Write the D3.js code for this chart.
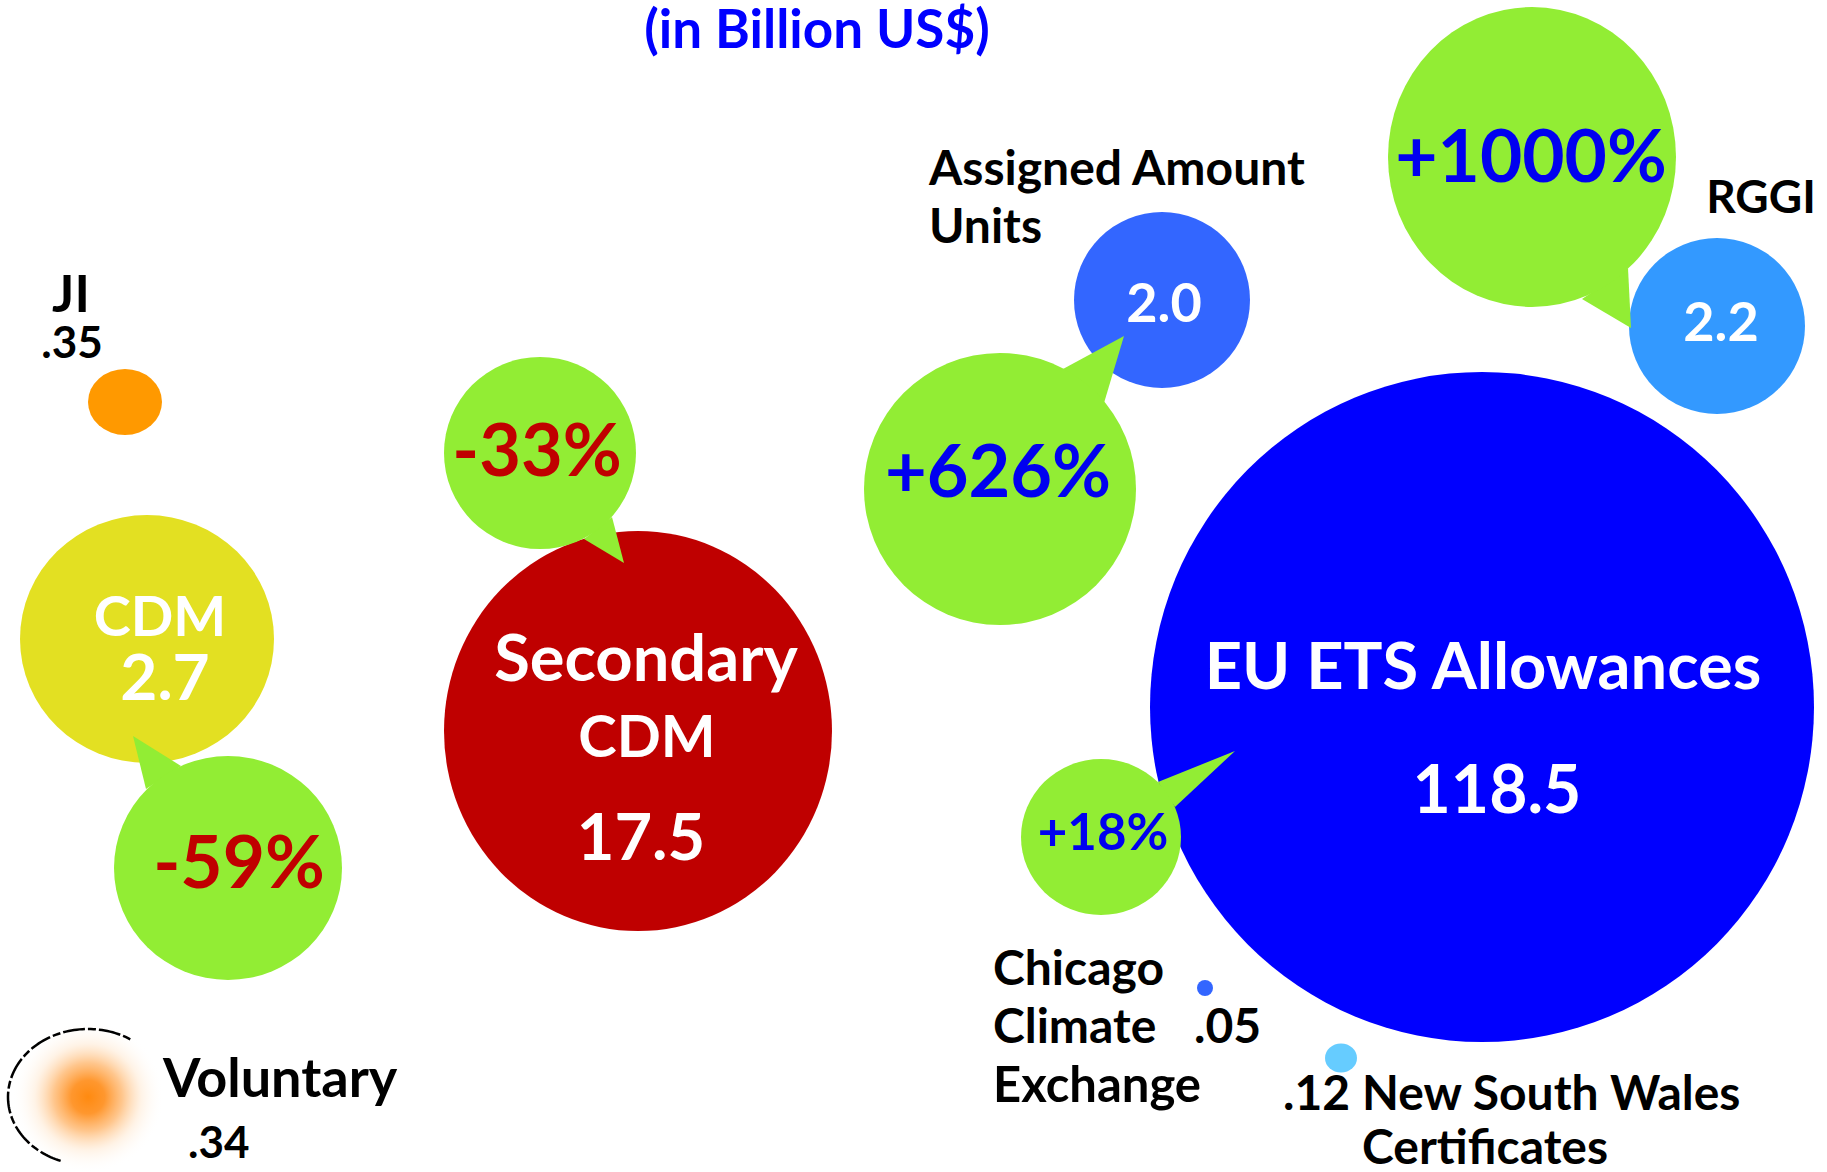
<!DOCTYPE html>
<html>
<head>
<meta charset="utf-8">
<script src="https://cdn.jsdelivr.net/npm/d3@7"></script>
<style>
  html, body { margin: 0; background: #fff; }
  svg { display: block; }
  text { font-family: Lato, "Open Sans", sans-serif; font-weight: 700; }
</style>
</head>
<body>
<script>

// market names (one entry per line of the label)
const markets = [
  ["EU ETS Allowances"],
  ["Secondary", "CDM"],
  ["CDM"],
  ["JI"],
  ["Assigned Amount", "Units"],
  ["RGGI"],
  ["Voluntary"],
  ["New South Wales", "Certificates"],
  ["Chicago", "Climate", "Exchange"]
];
// market value, billion US$
const values = [118.5, 17.5, 2.7, 0.35, 2.0, 2.2, 0.34, 0.12, 0.05];
// change on previous year, %
const changes = [18, -33, -59, null, 626, 1000, null, null, null];
const unitNote = "(in Billion US$)";

const W = 1827, H = 1172;

// hand placed bubble layout, in reference pixels
const layout = [
  { cx: 1482, cy: 707, rx: 332, ry: 335, fill: "#0000ff",
    text: [{ k: "n0", x: 1483, y: 689, s: 65, c: "#fff" }, { k: "v", x: 1497, y: 813, s: 66, c: "#fff" }],
    bub: { cx: 1101, cy: 837, rx: 80, ry: 78, tail: [[1158, 782], [1175, 807], [1235, 751]], x: 1103, y: 850, s: 51 } },
  { cx: 638, cy: 731, rx: 194, ry: 200, fill: "#bf0000",
    text: [{ k: "n0", x: 646, y: 681, s: 65, c: "#fff" }, { k: "n1", x: 647, y: 757, s: 58, c: "#fff" }, { k: "v", x: 641, y: 860, s: 65, c: "#fff" }],
    bub: { cx: 540, cy: 453, rx: 96, ry: 96, tail: [[584, 539], [612, 517], [624, 563]], x: 537, y: 476, s: 72 } },
  { cx: 147, cy: 639, rx: 127, ry: 124, fill: "#e3e022",
    text: [{ k: "n0", x: 160, y: 636, s: 56, c: "#fff" }, { k: "v", x: 165, y: 700, s: 64, c: "#fff" }],
    bub: { cx: 228, cy: 868, rx: 114, ry: 112, tail: [[146, 789], [181, 766], [133, 736]], x: 239, y: 888, s: 73 } },
  { cx: 125, cy: 402, rx: 37, ry: 33, fill: "#ff9900",
    text: [{ k: "n0", x: 71, y: 312, s: 52, c: "#000" }, { k: "v", x: 72, y: 358, s: 44, c: "#000" }] },
  { cx: 1162, cy: 300, rx: 88, ry: 88, fill: "#3366ff",
    text: [{ k: "n0", x: 929, y: 185, s: 48, c: "#000", a: "start" }, { k: "n1", x: 929, y: 243, s: 48, c: "#000", a: "start" },
           { k: "v", x: 1164, y: 322, s: 54, c: "#fff" }],
    bub: { cx: 1000, cy: 489, rx: 136, ry: 136, tail: [[1063, 369], [1104, 403], [1124, 336]], x: 998, y: 497, s: 72 } },
  { cx: 1717, cy: 326, rx: 88, ry: 88, fill: "#3399ff",
    text: [{ k: "n0", x: 1761, y: 213, s: 46, c: "#000" }, { k: "v", x: 1721, y: 341, s: 54, c: "#fff" }],
    bub: { cx: 1532, cy: 157, rx: 144, ry: 150, tail: [[1582, 299], [1628, 268], [1631, 328]], x: 1531, y: 182, s: 73 } },
  { cx: 88, cy: 1097, rx: 76, ry: 76, fill: "url(#blur)", outline: true,
    text: [{ k: "n0", x: 163, y: 1097, s: 54, c: "#000", a: "start" }, { k: "v", x: 188, y: 1158, s: 44, c: "#000", a: "start" }] },
  { cx: 1341, cy: 1058, rx: 16, ry: 14.5, fill: "#66ccff",
    text: [{ k: "v", x: 1283, y: 1110, s: 48, c: "#000", a: "start" }, { k: "n0", x: 1362, y: 1110, s: 48, c: "#000", a: "start" },
           { k: "n1", x: 1362, y: 1164, s: 48, c: "#000", a: "start" }] },
  { cx: 1205, cy: 988, rx: 8, ry: 8, fill: "#3366ff",
    text: [{ k: "n0", x: 993, y: 985, s: 48, c: "#000", a: "start" }, { k: "n1", x: 993, y: 1043, s: 48, c: "#000", a: "start" },
           { k: "n2", x: 993, y: 1102, s: 49, c: "#000", a: "start" }, { k: "v", x: 1194, y: 1043, s: 48, c: "#000", a: "start" }] }
];

const x = d3.scaleLinear().domain([0, 1827]).range([0, W]);
const y = d3.scaleLinear().domain([0, 1172]).range([0, H]);
const r = d3.scaleLinear().domain([0, 1827]).range([0, W]);

const fmtValue = v => v >= 1 ? d3.format(".1f")(v) : d3.format(".2f")(v).replace(/^0/, "");
const fmtChange = c => (c > 0 ? "+" : "-") + Math.abs(c) + "%";

const rows = markets.map((m, i) => ({ name: m, value: values[i], change: changes[i], L: layout[i] }));

const svg = d3.select("body").append("svg")
  .attr("width", W).attr("height", H);

const grad = svg.append("defs").append("radialGradient").attr("id", "blur");
[[0, "#ff8a10", 1], [0.22, "#ff8e1c", 0.92], [0.45, "#ffa040", 0.6], [0.7, "#ffc88e", 0.22], [1, "#ffffff", 0]]
  .forEach(s => grad.append("stop").attr("offset", s[0]).attr("stop-color", s[1]).attr("stop-opacity", s[2]));

svg.append("text")
  .attr("x", x(817)).attr("y", y(48))
  .attr("text-anchor", "middle")
  .attr("font-size", 53)
  .attr("fill", "#0000ff")
  .text(unitNote);

// market bubbles
const g = svg.append("g");
g.selectAll("ellipse.market")
  .data(rows)
  .join("ellipse")
  .attr("class", "market")
  .attr("cx", d => x(d.L.cx)).attr("cy", d => y(d.L.cy))
  .attr("rx", d => r(d.L.rx)).attr("ry", d => r(d.L.ry))
  .attr("fill", d => d.L.fill);

// dashed rim on the voluntary blob
rows.filter(d => d.L.outline).forEach(d => {
  const arc = d3.range(110, 305, 2).map(a => {
    const t = a * Math.PI / 180;
    return [x(d.L.cx + 80 * Math.cos(t)), y(d.L.cy + 68 * Math.sin(t))];
  });
  g.append("path")
    .attr("d", d3.line()(arc))
    .attr("fill", "none").attr("stroke", "#000")
    .attr("stroke-width", 2.5).attr("stroke-dasharray", "22 3 8 3");
});

// change callouts
const bubbles = rows.filter(d => d.change !== null);
const cb = svg.append("g").selectAll("g").data(bubbles).join("g");
cb.append("path")
  .attr("d", d => d3.line()(d.L.bub.tail.map(p => [x(p[0]), y(p[1])])) + "Z")
  .attr("fill", "#92ed34");
cb.append("ellipse")
  .attr("cx", d => x(d.L.bub.cx)).attr("cy", d => y(d.L.bub.cy))
  .attr("rx", d => r(d.L.bub.rx)).attr("ry", d => r(d.L.bub.ry))
  .attr("fill", "#92ed34");
cb.append("text")
  .attr("x", d => x(d.L.bub.x)).attr("y", d => y(d.L.bub.y))
  .attr("text-anchor", "middle")
  .attr("font-size", d => d.L.bub.s)
  .attr("fill", d => d.change > 0 ? "#0000f0" : "#c00000")
  .text(d => fmtChange(d.change));

// labels
const labels = rows.flatMap(d => d.L.text.map(t => ({
  t, str: t.k === "v" ? fmtValue(d.value) : d.name[+t.k.slice(1)]
})));
svg.append("g").selectAll("text")
  .data(labels)
  .join("text")
  .attr("x", d => x(d.t.x)).attr("y", d => y(d.t.y))
  .attr("text-anchor", d => d.t.a || "middle")
  .attr("font-size", d => d.t.s)
  .attr("fill", d => d.t.c)
  .text(d => d.str);

</script>
</body>
</html>
